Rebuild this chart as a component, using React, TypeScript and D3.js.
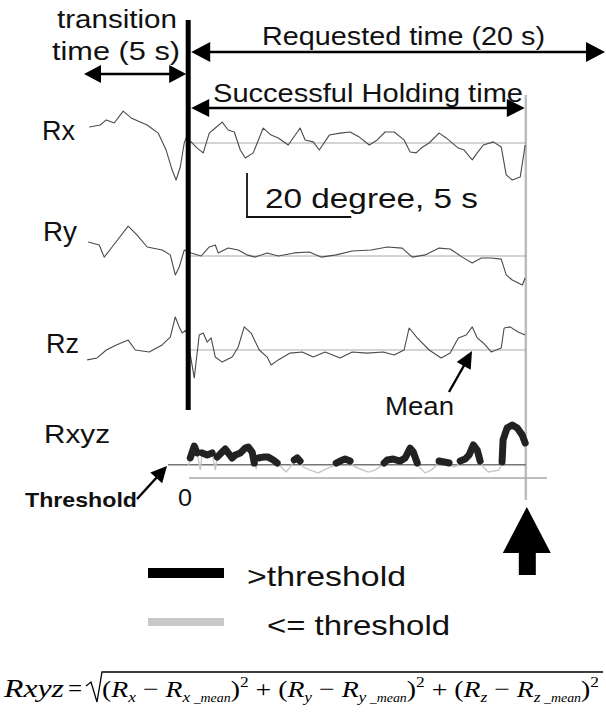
import React from "react";
import * as d3 from "d3";

// ---------- data (time in s relative to end of transition, angle in degrees relative to mean) ----------
const timeDomain: [number, number] = [-5, 20];
const requestedTime = 20;
const holdEnd = 16.2;
const threshold = 6;
const scaleBarDeg = 20;
const scaleBarSec = 5;

const rxData: [number, number][] = [
  [-4.75, 7.3], [-4.22, 8.2], [-3.93, 10.5], [-3.55, 9.1], [-3.12, 14.5], [-2.74, 11.4], [-1.97, 8.2],
  [-1.44, 4.5], [-1.06, -3.2], [-0.77, -12.3], [-0.58, -16.8], [-0.38, -10.9], [-0.19, 0], [-0.1, 2.3],
  [0.14, 0.5], [0.43, -2.3], [0.72, -4.5], [1.01, 4.5], [1.3, 6.8], [1.63, 9.5], [1.92, 5.9], [2.21, 5.0],
  [2.5, -3.2], [2.74, -6.8], [3.12, -4.5], [3.6, 6.8], [3.98, 3.6], [4.32, 2.3], [4.8, -0.9], [5.37, 6.8],
  [5.61, 1.4], [6.0, 0.5], [6.29, -3.2], [6.77, 3.6], [7.29, 4.5], [7.77, 5.0], [8.21, 2.7], [8.69, -0.9],
  [9.07, 1.4], [9.45, 5.0], [9.88, 5.0], [10.36, 1.4], [10.65, -4.1], [10.94, -4.5], [11.18, -2.3],
  [11.56, 0], [12.04, 4.5], [12.38, 2.3], [12.96, -2.3], [13.24, -3.2], [13.63, -7.7], [13.87, -4.5],
  [14.16, -0.9], [14.64, 0.5], [15.02, -1.8], [15.26, -14.5], [15.55, -16.8], [15.93, -15.5], [16.17, -0.9],
];

const ryData: [number, number][] = [
  [-4.8, 6.4], [-4.27, 5.0], [-4.03, -0.5], [-3.65, 4.1], [-2.88, 13.6], [-2.45, 9.5], [-1.97, 4.1],
  [-1.25, 2.7], [-0.86, 0.5], [-0.62, -8.6], [-0.43, -5.0], [-0.19, 2.7], [0.14, 1.4], [0.62, 0],
  [1.01, 4.1], [1.3, 5.0], [1.44, 1.4], [1.92, 3.6], [2.4, 2.7], [2.83, 0.5], [3.21, -0.5], [3.79, 1.4],
  [4.32, 0], [5.09, 1.4], [5.81, 1.8], [6.38, -0.5], [7.1, 0.5], [7.87, 2.3], [8.78, 2.7], [9.55, 4.1],
  [10.27, 3.6], [10.75, -0.5], [11.37, 0.5], [12.04, 3.6], [12.57, 3.2], [13.15, -0.5], [13.63, -3.2],
  [14.06, -0.9], [14.54, -0.9], [15.02, -1.4], [15.26, -8.6], [15.55, -10.9], [16.03, -13.2], [16.17, -10.0],
];

const rzData: [number, number][] = [
  [-4.85, -4.5], [-4.37, -3.6], [-3.93, 0], [-3.45, 2.3], [-2.88, 4.5], [-2.54, 0], [-1.87, -0.9],
  [-1.25, 2.3], [-0.86, 5.9], [-0.62, 15.0], [-0.43, 10.5], [-0.29, 7.7], [-0.1, 9.1], [0.29, -12.7],
  [0.53, 6.8], [0.72, 7.7], [0.91, 3.6], [1.1, 5.5], [1.3, -3.2], [1.63, -5.5], [2.11, -3.2], [2.4, 1.4],
  [2.69, 10.5], [3.02, 7.7], [3.41, 0], [3.79, -3.2], [3.98, -6.8], [4.32, -4.5], [4.89, -1.4], [5.47, -0.9],
  [6.0, -3.2], [6.57, -0.9], [7.29, -3.6], [7.87, -0.9], [8.59, -1.4], [9.36, -0.9], [9.88, -2.3],
  [10.36, 0], [10.6, 10.0], [10.99, 5.5], [11.56, 0], [12.14, -3.6], [12.57, -1.4], [12.96, 5.5],
  [13.34, 6.8], [13.63, 10.5], [13.87, 5.5], [14.16, 3.2], [14.54, -0.9], [15.02, 0.9], [15.16, 10.0],
  [15.45, 10.5], [15.83, 8.2], [16.17, 6.8],
];

const rxyzData: [number, number][] = [
  [0, 5.5], [0.1, 9.1], [0.29, 14.5], [0.43, 11.4], [0.58, 3.6], [0.67, 11.4], [0.91, 10.5], [1.15, 11.4],
  [1.3, 3.6], [1.39, 9.5], [1.63, 11.8], [1.78, 13.2], [1.92, 11.4], [2.11, 9.1], [2.26, 10.5], [2.5, 11.4],
  [2.74, 13.6], [2.88, 14.1], [3.07, 11.8], [3.17, 6.8], [3.26, 4.5], [3.36, 9.1], [3.6, 9.5], [3.84, 9.5],
  [4.08, 8.2], [4.27, 6.8], [4.46, 5.0], [4.7, 2.7], [4.94, 5.5], [5.09, 8.2], [5.23, 9.1], [5.37, 7.7],
  [5.52, 5.0], [5.85, 3.6], [6.24, 2.3], [6.62, 4.1], [6.96, 5.5], [7.1, 6.8], [7.29, 7.7], [7.53, 8.6],
  [7.77, 7.7], [7.92, 5.5], [8.25, 4.1], [8.64, 2.7], [8.97, 3.6], [9.26, 5.5], [9.4, 6.8], [9.55, 8.2],
  [9.84, 8.6], [10.17, 7.7], [10.41, 9.1], [10.65, 13.6], [10.8, 11.8], [10.99, 6.8], [11.13, 4.5],
  [11.37, 2.3], [11.66, 3.6], [11.9, 5.5], [12.04, 7.7], [12.28, 7.3], [12.52, 6.8], [12.72, 5.0],
  [12.91, 5.5], [13.05, 7.7], [13.29, 8.6], [13.48, 10.5], [13.68, 15.0], [13.87, 12.7], [14.01, 7.7],
  [14.16, 5.0], [14.4, 2.7], [14.68, 3.2], [14.92, 3.6], [15.06, 7.3], [15.11, 17.3], [15.3, 22.7],
  [15.55, 24.1], [15.79, 22.7], [16.03, 19.5], [16.17, 15.9],
];

const traceLabels = ["Rx", "Ry", "Rz"];
const traceSeries = [rxData, ryData, rzData];
const formulaAxes = ["x", "y", "z"];

const SANS = "'Liberation Sans', Arial, Helvetica, sans-serif";
const SERIF = "'Liberation Serif', 'Times New Roman', serif";

function Head({ tip, from, len = 18, half = 9 }: { tip: [number, number]; from: [number, number]; len?: number; half?: number }) {
  const dx = tip[0] - from[0];
  const dy = tip[1] - from[1];
  const d = Math.hypot(dx, dy) || 1;
  const ux = dx / d, uy = dy / d;
  const bx = tip[0] - ux * len, by = tip[1] - uy * len;
  const pts = [
    [tip[0], tip[1]],
    [bx - uy * half, by + ux * half],
    [bx + uy * half, by - ux * half],
  ];
  return <polygon points={pts.map((p) => p.join(",")).join(" ")} fill="#000" />;
}

function DoubleArrow({ x1, x2, y, len = 18, half = 9 }: { x1: number; x2: number; y: number; len?: number; half?: number }) {
  return (
    <g>
      <line x1={x1 + 4} x2={x2 - 4} y1={y} y2={y} stroke="#000" strokeWidth={2.6} />
      <Head tip={[x1, y]} from={[x2, y]} len={len} half={half} />
      <Head tip={[x2, y]} from={[x1, y]} len={len} half={half} />
    </g>
  );
}

export default function App() {
  const x = d3.scaleLinear().domain(timeDomain).range([84, 605]);
  const traceCenters = [143, 256, 350];
  const pxPerDeg = 2.2;
  const yFor = (c: number) => d3.scaleLinear().domain([-20, 20]).range([c + 20 * pxPerDeg, c - 20 * pxPerDeg]);
  const yR = d3.scaleLinear().domain([0, 20]).range([478, 478 - 20 * pxPerDeg]);

  const x0 = x(0);
  const xHold = x(holdEnd);

  const lineGray = d3.line<[number, number]>().x((d) => x(d[0])).y((d) => yR(d[1]));
  const lineBlack = d3
    .line<[number, number]>()
    .defined((d) => d[1] > threshold)
    .x((d) => x(d[0]))
    .y((d) => yR(d[1]));

  const sbX = 247;
  const sbY = 217;

  const txt = (props: any, s: string) => (
    <text fontFamily={SANS} fill="#111" lengthAdjust="spacingAndGlyphs" {...props}>
      {s}
    </text>
  );

  const fy = 697;

  return (
    <svg width={606} height={712} style={{ position: "absolute", left: 0, top: 0, background: "#fff" }}>
      <rect width={606} height={712} fill="#fff" />

      {/* top annotations */}
      {txt({ x: 57, y: 28, fontSize: 25, textLength: 120 }, "transition")}
      {txt({ x: 52, y: 60, fontSize: 25, textLength: 128 }, "time (5 s)")}
      {txt({ x: 262, y: 45, fontSize: 25, textLength: 283 }, "Requested time (20 s)")}
      {txt({ x: 213, y: 102, fontSize: 25, textLength: 310 }, "Successful Holding time")}

      <DoubleArrow x1={x(timeDomain[0])} x2={x0 - 2} y={74} len={17} half={9} />
      <DoubleArrow x1={x0 + 3} x2={x(requestedTime)} y={52} len={19} half={10} />
      <DoubleArrow x1={x0 + 3} x2={xHold - 1} y={108} len={18} half={9} />

      {/* gray end line */}
      <line x1={xHold} x2={xHold} y1={95} y2={500} stroke="#bdbdbd" strokeWidth={2.5} />

      {/* traces */}
      {traceSeries.map((data, i) => {
        const y = yFor(traceCenters[i]);
        const ln = d3.line<[number, number]>().x((d) => x(d[0])).y((d) => y(d[1]));
        return (
          <g key={i}>
            <line x1={x0 + 2} x2={xHold} y1={y(0)} y2={y(0)} stroke="#aaa" strokeWidth={1.2} />
            <path d={ln(data) || ""} fill="none" stroke="#4a4a4a" strokeWidth={1.1} strokeLinejoin="round" />
          </g>
        );
      })}
      {txt({ x: 42, y: 140, fontSize: 27, textLength: 33 }, traceLabels[0])}
      {txt({ x: 43, y: 241, fontSize: 27, textLength: 34 }, traceLabels[1])}
      {txt({ x: 46, y: 353, fontSize: 27, textLength: 33 }, traceLabels[2])}

      {/* scale bar */}
      <path
        d={`M${sbX},${sbY - scaleBarDeg * pxPerDeg} L${sbX},${sbY} L${sbX + (x(scaleBarSec) - x(0))},${sbY}`}
        fill="none"
        stroke="#111"
        strokeWidth={1.8}
      />
      {txt({ x: 265, y: 208, fontSize: 27, textLength: 213 }, "20 degree, 5 s")}

      {/* Mean arrow */}
      <line x1={449} y1={392} x2={466} y2={362} stroke="#000" strokeWidth={2.4} />
      <Head tip={[472, 351]} from={[449, 392]} len={17} half={8} />
      {txt({ x: 385, y: 415, fontSize: 25, textLength: 69 }, "Mean")}

      {/* black transition line */}
      <line x1={x0} x2={x0} y1={20} y2={410} stroke="#000" strokeWidth={5} />

      {/* Rxyz */}
      {txt({ x: 44, y: 443, fontSize: 25, textLength: 66 }, "Rxyz")}
      <line x1={189} x2={547} y1={yR(0)} y2={yR(0)} stroke="#aaa" strokeWidth={1.6} />
      <line x1={168} x2={xHold} y1={yR(threshold)} y2={yR(threshold)} stroke="#777" strokeWidth={1.6} />
      <path d={lineGray(rxyzData) || ""} fill="none" stroke="#c8c8c8" strokeWidth={1.4} />
      <path
        d={lineBlack(rxyzData) || ""}
        fill="none"
        stroke="#222"
        strokeWidth={7}
        strokeLinejoin="round"
        strokeLinecap="round"
      />

      {/* Threshold arrow */}
      <line x1={137} y1={499} x2={158} y2={476} stroke="#000" strokeWidth={2.4} />
      <Head tip={[167, 466]} from={[137, 499]} len={16} half={8} />
      {txt({ x: 25, y: 507, fontSize: 21, fontWeight: "bold", textLength: 112 }, "Threshold")}
      {txt({ x: 178, y: 506, fontSize: 23, textLength: 14 }, "0")}

      {/* big up arrow */}
      <polygon points={`${xHold - 23},553 ${xHold + 1},507 ${xHold + 25},553`} fill="#000" />
      <rect x={xHold - 7} y={552} width={17} height={23} fill="#000" />

      {/* legend */}
      <line x1={148} x2={224} y1={573} y2={573} stroke="#000" strokeWidth={10} />
      {txt({ x: 247, y: 586, fontSize: 28, textLength: 159 }, ">threshold")}
      <line x1={148} x2={224} y1={622} y2={622} stroke="#c8c8c8" strokeWidth={8} />
      {txt({ x: 267, y: 635, fontSize: 28, textLength: 183 }, "<= threshold")}

      {/* formula */}
      <text x={4} y={fy} fontFamily={SERIF} fontStyle="italic" fontSize={25} textLength={60} lengthAdjust="spacingAndGlyphs">
        Rxyz
      </text>
      <text x={68} y={fy} fontFamily={SERIF} fontSize={25}>
        =
      </text>
      <path d="M86,686 L91,682 L97,702 L102,672 L603,672" fill="none" stroke="#000" strokeWidth={1.3} />
      <text x={102} y={fy} fontFamily={SERIF} fontSize={24} textLength={497} lengthAdjust="spacingAndGlyphs">
        {formulaAxes.map((s, i) => (
          <tspan key={s}>
            {i > 0 ? <tspan y={fy}>{" + "}</tspan> : null}
            <tspan y={fy}>(</tspan>
            <tspan y={fy} fontStyle="italic">R</tspan>
            <tspan y={fy + 5} fontStyle="italic" fontSize={15}>{s}</tspan>
            <tspan y={fy}>{" − "}</tspan>
            <tspan y={fy} fontStyle="italic">R</tspan>
            <tspan y={fy + 5} fontStyle="italic" fontSize={15}>{s}</tspan>
            <tspan y={fy + 5} fontStyle="italic" fontSize={12}>{" _mean"}</tspan>
            <tspan y={fy}>)</tspan>
            <tspan y={fy - 10} fontSize={15}>2</tspan>
          </tspan>
        ))}
      </text>
    </svg>
  );
}
